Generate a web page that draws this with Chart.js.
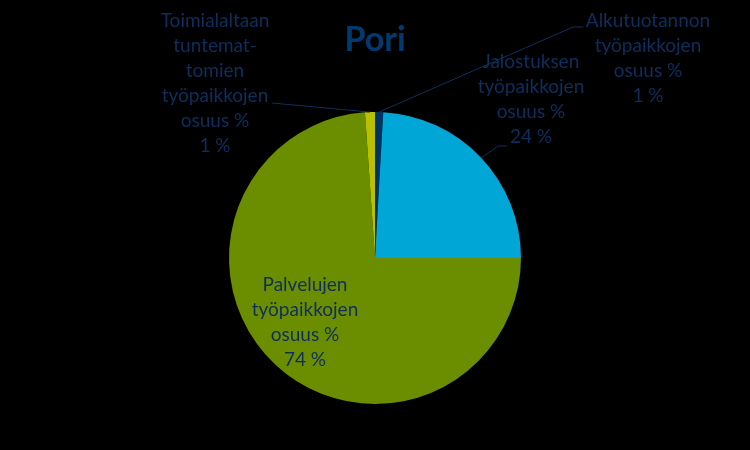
<!DOCTYPE html>
<html>
<head>
<meta charset="utf-8">
<script src="https://cdn.jsdelivr.net/npm/chart.js@4.4.1/dist/chart.umd.min.js"></script>
<style>
  html, body { margin: 0; padding: 0; background: #000; }
  #kaavio { display: block; }
</style>
</head>
<body>
<canvas id="kaavio" width="750" height="450"></canvas>
<script>
// Porin työpaikat toimialoittain (%)
const toimialat = ['Alkutuotanto', 'Jalostus', 'Palvelut', 'Tuntematon'];
const osuudet = [0.9, 24.1, 73.9, 1.1];
const naytettavat = ['1 %', '24 %', '74 %', '1 %'];
const otsikot = [
    ['Alkutuotannon', 'työpaikkojen', 'osuus %'],
    ['Jalostuksen', 'työpaikkojen', 'osuus %'],
    ['Palvelujen', 'työpaikkojen', 'osuus %'],
    ['Toimialaltaan', 'tuntemat-', 'tomien', 'työpaikkojen', 'osuus %']
];
const varit = ['#003366', '#00A6D6', '#6B8E00', '#B8C000'];

const TEKSTIVARI = '#0F2E5C';
const FONTTI = '"Lato", "Open Sans", sans-serif';

// sijoitus: tekstin keskikohta ja ensimmäisen rivin y
const sijainnit = [
    { x: 648, y: 21, viiva: [[583, 27], [573, 27]] },
    { x: 531, y: 62, viiva: [[507, 146], [498, 146]] },
    { x: 305, y: 285, viiva: null },
    { x: 215, y: 21, viiva: [[272, 103]] }
];

const nimiotPlugin = {
    id: 'nimiot',
    afterDatasetsDraw(chart) {
        const ctx = chart.ctx;
        const kaaret = chart.getDatasetMeta(0).data;
        ctx.save();
        ctx.font = '19px ' + FONTTI;
        ctx.fillStyle = TEKSTIVARI;
        ctx.strokeStyle = TEKSTIVARI;
        ctx.lineWidth = 1;
        ctx.textAlign = 'center';
        ctx.textBaseline = 'middle';

        kaaret.forEach((kaari, i) => {
            const s = sijainnit[i];
            const rivit = otsikot[i].concat([naytettavat[i]]);
            rivit.forEach((rivi, j) => {
                ctx.fillText(rivi, s.x, s.y + j * 25);
            });
            if (s.viiva) {
                const p = kaari.getProps(['x', 'y', 'startAngle', 'endAngle', 'outerRadius'], true);
                const kulma = (p.startAngle + p.endAngle) / 2;
                const ax = p.x + Math.cos(kulma) * p.outerRadius;
                const ay = p.y + Math.sin(kulma) * p.outerRadius;
                ctx.beginPath();
                ctx.moveTo(ax, ay);
                for (let k = s.viiva.length - 1; k >= 0; k--) {
                    ctx.lineTo(s.viiva[k][0], s.viiva[k][1]);
                }
                ctx.stroke();
            }
        });
        ctx.restore();
    }
};

new Chart(document.getElementById('kaavio'), {
    type: 'pie',
    data: {
        labels: toimialat,
        datasets: [{
            data: osuudet,
            backgroundColor: varit,
            borderWidth: 0
        }]
    },
    options: {
        responsive: false,
        animation: false,
        layout: { padding: { top: 112, bottom: 46, left: 0, right: 0 } },
        plugins: {
            legend: { display: false },
            tooltip: { enabled: false },
            title: { display: false }
        }
    },
    plugins: [nimiotPlugin, {
        id: 'otsikko',
        afterDraw(chart) {
            const ctx = chart.ctx;
            ctx.save();
            ctx.font = 'bold 34px ' + FONTTI;
            ctx.fillStyle = '#003A70';
            ctx.textAlign = 'center';
            ctx.textBaseline = 'middle';
            ctx.fillText('Pori', 375, 40);
            ctx.restore();
        }
    }]
});
</script>
</body>
</html>
